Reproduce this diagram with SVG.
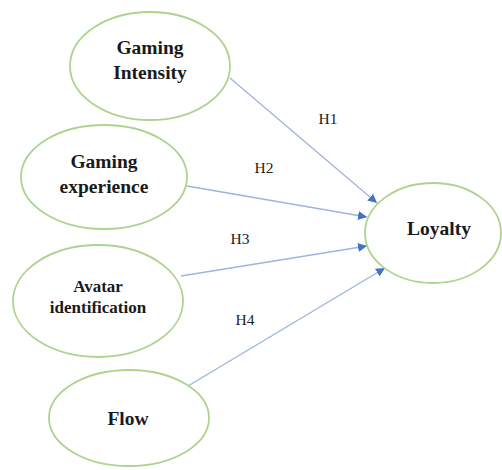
<svg xmlns="http://www.w3.org/2000/svg" width="502" height="470" viewBox="0 0 502 470">
<style>
.node ellipse{fill:#ffffff;stroke:#add38f;stroke-width:1.8}
.lbl{font-family:'Liberation Serif','DejaVu Serif',serif;font-weight:bold;fill:#1a1a1a;text-anchor:middle}
.h{font-family:'Liberation Serif','DejaVu Serif',serif;font-size:15.5px;fill:#222;text-anchor:middle}
.conn line{stroke:#9fb3df;stroke-width:1.3;marker-end:url(#arr)}
</style>
<defs>
<marker id="arr" viewBox="0 0 10 10" refX="10" refY="5" markerWidth="9" markerHeight="9" markerUnits="userSpaceOnUse" orient="auto">
<path d="M0,0 L10,5 L0,10 Z" fill="#4472c4"/>
</marker>
</defs>
<rect width="502" height="470" fill="#ffffff"/>
<g id="connectors" class="conn">
<line x1="230" y1="78" x2="377" y2="203"/>
<line x1="187" y1="186" x2="367" y2="217"/>
<line x1="181" y1="276" x2="367" y2="246"/>
<line x1="188" y1="386" x2="385" y2="268"/>
</g>
<g id="node-intensity" class="node">
<ellipse cx="150" cy="66" rx="80" ry="54"/>
<text class="lbl" x="150" y="54" font-size="19.5">Gaming</text>
<text class="lbl" x="150" y="79" font-size="19.5">Intensity</text>
</g>
<g id="node-experience" class="node">
<ellipse cx="104" cy="177" rx="83" ry="52"/>
<text class="lbl" x="104" y="168" font-size="19.5">Gaming</text>
<text class="lbl" x="104" y="193" font-size="19.5">experience</text>
</g>
<g id="node-avatar" class="node">
<ellipse cx="98" cy="301" rx="85" ry="56"/>
<text class="lbl" x="98" y="292" font-size="17">Avatar</text>
<text class="lbl" x="98" y="313" font-size="17">identification</text>
</g>
<g id="node-flow" class="node">
<ellipse cx="129" cy="418" rx="80" ry="48"/>
<text class="lbl" x="128" y="425" font-size="19.5">Flow</text>
</g>
<g id="node-loyalty" class="node">
<ellipse cx="433" cy="233" rx="68" ry="50"/>
<text class="lbl" x="439" y="235" font-size="19.5">Loyalty</text>
</g>
<g id="labels">
<text class="h" x="328" y="124">H1</text>
<text class="h" x="264" y="173">H2</text>
<text class="h" x="240" y="244">H3</text>
<text class="h" x="245" y="325">H4</text>
</g>
</svg>
